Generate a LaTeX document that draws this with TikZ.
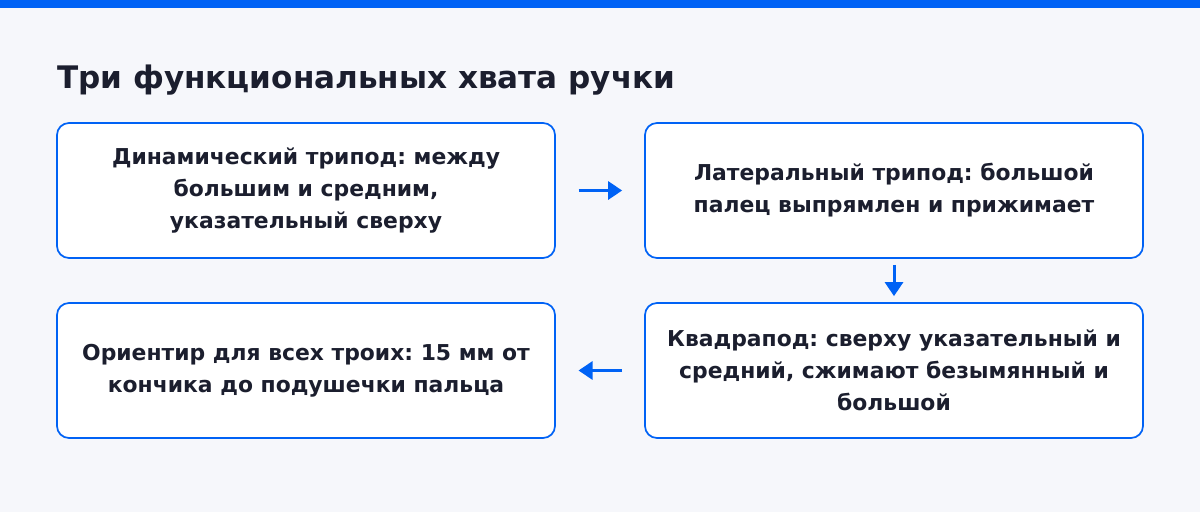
\documentclass[tikz,border=0pt]{standalone}
\usepackage{fontspec}
\setmainfont{DejaVu Sans}
\frenchspacing
\usetikzlibrary{arrows.meta}
\definecolor{pageback}{HTML}{F6F7FB}
\definecolor{gripblue}{HTML}{0062F5}
\definecolor{inkdark}{HTML}{1B1E2E}
\tikzset{
    gripbox/.style={draw=gripblue, line width=1.3pt, fill=white, rounded corners=9pt,
        minimum width=373.5pt, minimum height=101.25pt, text=inkdark, align=center,
        font=\bfseries\fontsize{16.4}{24}\selectfont},
    griparrow/.style={draw=gripblue, line width=2.25pt, -{Triangle[length=10.5pt,width=13.5pt]}}
}

\begin{document}
\begin{tikzpicture}[x=0.75pt, y=-0.75pt]
            \fill [pageback] (0,0) rectangle (1200,512);
            \fill [gripblue] (0,0) rectangle (1200,8);
            \node [anchor=base west, text=inkdark, font=\bfseries\fontsize{23.3}{27}\selectfont, inner sep=0pt] (title) at (57,88) {Три функциональных хвата ручки};
            \node [gripbox] (dyn) at (306,190.5) {Динамический трипод: между\\большим и средним,\\указательный сверху};
            \node [gripbox] (lat) at (894,190.5) {Латеральный трипод: большой\\палец выпрямлен и прижимает};
            \node [gripbox] (quad) at (894,370.5) {Квадрапод: сверху указательный и\\средний, сжимают безымянный и\\большой};
            \node [gripbox] (mark) at (306,370.5) {Ориентир для всех троих: 15 мм от\\кончика до подушечки пальца};
            \draw [griparrow, shorten <=17pt, shorten >=16.5pt] (dyn) -- (lat);
            \draw [griparrow, shorten <=4.5pt, shorten >=4.5pt] (lat) -- (quad);
            \draw [griparrow, shorten <=16.5pt, shorten >=17pt] (quad) -- (mark);
        \end{tikzpicture}
\end{document}
